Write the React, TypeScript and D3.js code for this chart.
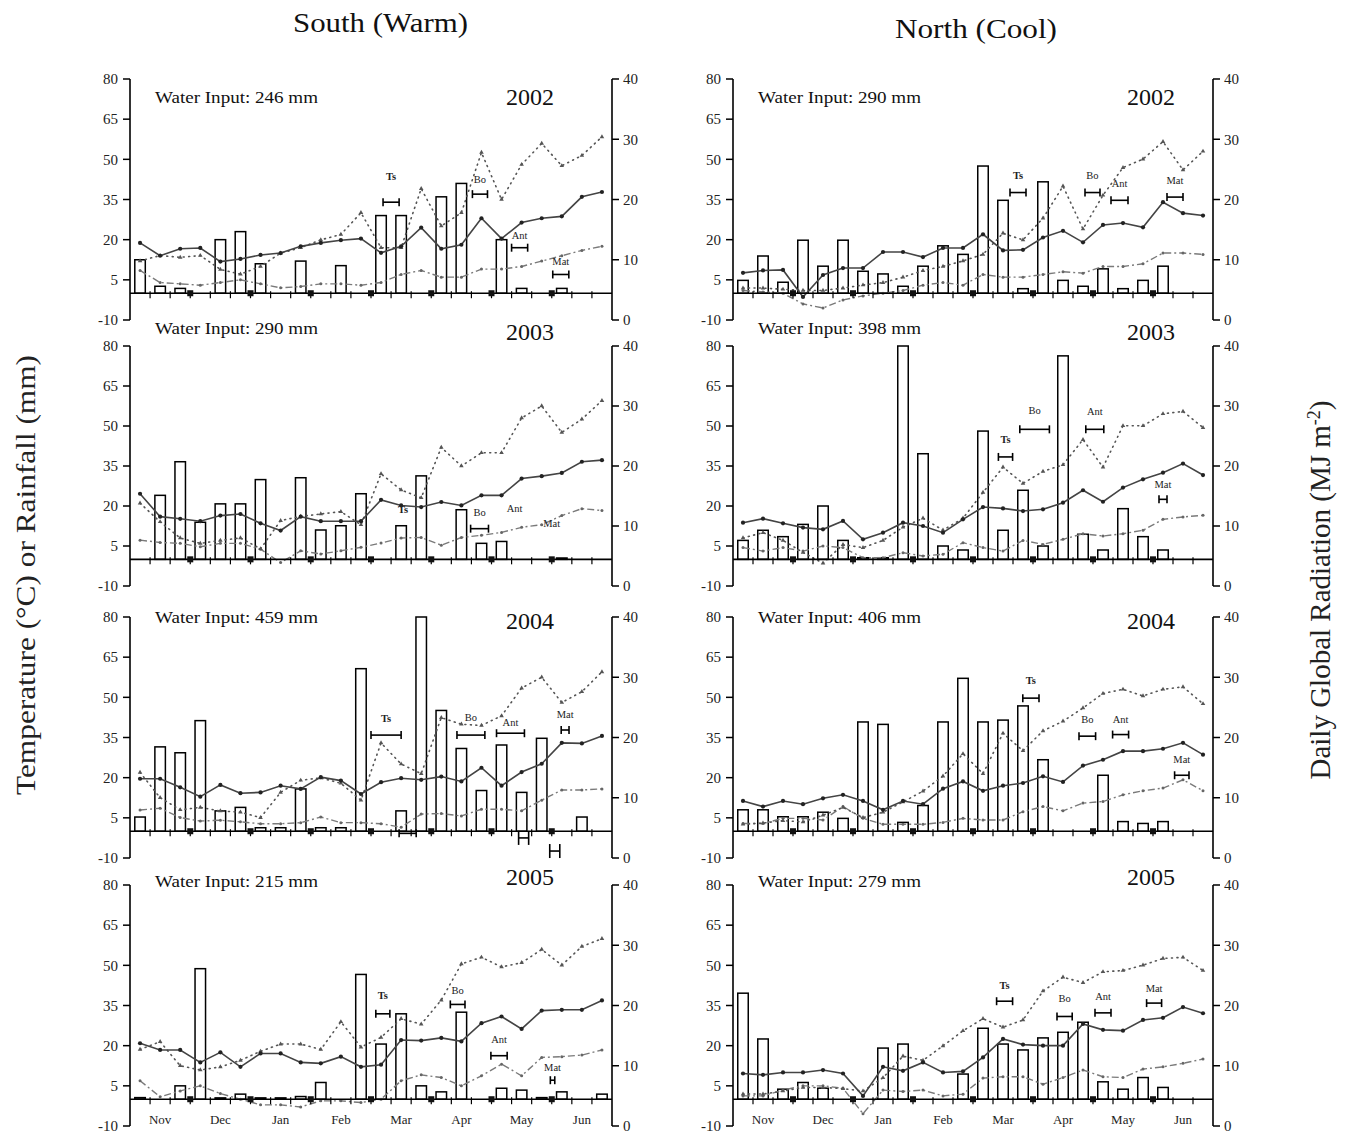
import React from 'react';
import * as d3 from 'd3';

// ---------------- DATA ----------------
const MONTHS = ['Nov', 'Dec', 'Jan', 'Feb', 'Mar', 'Apr', 'May', 'Jun'];
const LEFT_TICKS = [80, 65, 50, 35, 20, 5, -10];
const RIGHT_TICKS = [40, 30, 20, 10, 0];
const N_DEKADS = 24;

// South (Warm) 2002
const s2002Rain = [12.5, 2.6, 1.8, 0, 20, 23, 11, 0, 12, 0, 10.3, 0, 29, 29, 0, 36, 41, 0, 20, 1.8, 0, 1.8, 0, 0];
const s2002Tmax = [18.8, 14, 16.6, 16.9, 11.8, 12.8, 14.3, 15, 17.5, 18.8, 19.8, 20.4, 15.1, 17.5, 24.5, 16.6, 18.1, 28, 20.4, 26.4, 28, 28.7, 36, 37.8];
const s2002Tmin = [8.5, 4, 3.5, 3, 4, 5, 3.5, 2, 2.5, 3.5, 3.5, 3, 4, 7, 8.5, 6, 6, 9, 9, 10, 12, 14, 16, 17.5];
const s2002Rad = [9.8, 10.7, 10.4, 10.7, 8.4, 7.6, 8.9, 11.1, 12.0, 13.3, 14.2, 17.8, 12.0, 12.0, 21.8, 15.6, 17.8, 27.8, 20.0, 25.8, 29.3, 25.6, 27.3, 30.4];

// North (Cool) 2002
const n2002Rain = [4.8, 13.9, 4.1, 19.8, 10.1, 19.8, 8.2, 7.2, 2.6, 10.1, 17.7, 14.5, 47.5, 34.7, 1.7, 41.6, 4.8, 2.6, 9.1, 1.7, 4.8, 10.1, 0, 0];
const n2002Tmax = [7.6, 8.5, 8.7, -1.4, 6.8, 9.4, 9.4, 15.4, 15.4, 13.5, 16.9, 16.9, 22, 16, 16.2, 20.8, 23.3, 19, 25.5, 26.2, 24.6, 34, 29.9, 29];
const n2002Tmin = [1, 0.5, 0, -4, -5.5, -2.5, -1, 0, 1, 3, 4, 3, 7, 6, 6, 7, 8, 7.5, 10, 10, 11, 15, 15, 14.5];
const n2002Rad = [5.3, 5.3, 5.1, 4.9, 4.9, 5.3, 5.8, 6.2, 7.1, 8.2, 8.9, 9.8, 10.9, 14.4, 13.3, 16.9, 22.2, 15.1, 20.7, 25.3, 26.7, 29.6, 24.9, 28.0];

// South (Warm) 2003
const s2003Rain = [0, 24, 36.6, 13.9, 20.8, 20.8, 29.9, 0, 30.6, 11, 12.6, 24.6, 0, 12.6, 31.3, 0, 18.6, 6, 6.7, 0, 0, 0.5, 0, 0];
const s2003Tmax = [24.6, 16, 15.2, 14.3, 16.4, 17, 13.5, 10.8, 16, 14.3, 14.3, 14.3, 22.3, 20.2, 19.6, 21.5, 20.2, 24, 24, 30.3, 31.2, 32.4, 36.6, 37.2];
const s2003Tmin = [7.2, 6.3, 6, 4.7, 6, 6, 3.8, -1.2, 3.2, 2, 3.2, 4.5, 6.1, 8, 8.2, 5.3, 8.2, 9, 10.1, 12, 13, 16.4, 19, 18.3];
const s2003Rad = [13.8, 10.7, 8.0, 7.1, 7.6, 8.0, 6.2, 10.9, 11.6, 12.0, 12.4, 10.2, 18.7, 16.0, 14.7, 23.1, 20.0, 22.2, 22.2, 28.0, 30.0, 25.6, 27.8, 30.9];

// North (Cool) 2003
const n2003Rain = [7.1, 10.9, 8.5, 13.1, 20, 7.1, 0.6, 0.6, 80, 39.6, 5, 3.5, 48.1, 10.9, 25.9, 5, 76.3, 9.4, 3.5, 19, 8.5, 3.5, 0, 0];
const n2003Tmax = [13.75, 15.25, 13.5, 11.9, 11.25, 14.4, 7.5, 10, 13.75, 12.5, 10, 15, 19.6, 19.1, 18.1, 18.75, 21.25, 25.9, 21.6, 26.9, 30, 32.5, 35.9, 31.6];
const n2003Tmin = [4.4, 3.1, 4.4, 3.1, 5, 4.4, 0.6, 0.6, 2.5, 1.25, 1.9, 6.25, 4.4, 3.1, 7.1, 5.6, 7.5, 9.6, 8.75, 9.6, 10.9, 15, 15.9, 16.5];
const n2003Rad = [8.0, 8.9, 7.6, 5.6, 3.8, 6.9, 6.4, 7.6, 9.8, 11.3, 9.3, 11.3, 15.6, 19.8, 17.1, 19.1, 20.2, 24.4, 19.8, 26.7, 26.7, 28.7, 29.1, 26.4];

// South (Warm) 2004
const s2004Rain = [5.3, 31.5, 29.3, 41.3, 7.6, 8.9, 1.3, 1.3, 15.8, 1.3, 1.3, 60.7, 0, 7.6, 80, 45.1, 30.9, 15.2, 32.2, 14.5, 34.7, 0, 5.3, 0];
const s2004Tmax = [19.6, 19.6, 16.4, 12.9, 17.3, 14.2, 14.5, 17, 15.8, 20.2, 18.9, 13.9, 18.3, 19.8, 19.2, 20.4, 18.6, 23.7, 17, 22.1, 25.2, 33, 32.8, 35.6];
const s2004Tmin = [7.9, 8.6, 5.1, 3.8, 4.1, 3.5, 2.8, 2.8, 3.2, 5.3, 3.2, 3.2, 2.8, 1.5, 6.4, 6.6, 5.7, 8.2, 8.2, 7.6, 11.6, 15.4, 15.4, 15.8];
const s2004Rad = [14.2, 10.0, 8.0, 8.4, 7.8, 7.6, 6.7, 10.9, 12.9, 13.3, 12.4, 9.6, 19.1, 15.6, 14.0, 23.3, 22.2, 22.0, 23.6, 28.2, 30.0, 25.8, 27.6, 30.9];

// North (Cool) 2004
const n2004Rain = [8, 8, 5.4, 5.4, 7.1, 4.8, 40.8, 39.9, 3.3, 9.6, 40.8, 57.1, 40.8, 41.5, 46.8, 26.7, 0, 0, 20.9, 3.6, 2.9, 3.6, 0, 0];
const n2004Tmax = [11.3, 9.2, 11.3, 10.1, 12.3, 13.6, 11.3, 8, 11.3, 10.1, 15.9, 18.6, 15.1, 17, 18, 20.5, 18.4, 24.5, 26.7, 29.9, 29.9, 30.8, 33, 28.6];
const n2004Tmin = [2.9, 2.9, 4.8, 4.8, 4.2, 9.2, 4.8, 2.6, 2.6, 2.6, 3.3, 4.8, 4.2, 4.2, 7.3, 9.2, 7.6, 10.5, 11.1, 13.6, 15.1, 16.1, 19.2, 15.1];
const n2004Rad = [5.6, 5.8, 6.2, 6.0, 7.1, 8.4, 6.7, 7.6, 9.3, 11.1, 13.6, 17.3, 14.0, 20.7, 17.8, 21.1, 22.7, 24.9, 27.3, 28.0, 26.9, 28.0, 28.4, 25.6];

// South (Warm) 2005
const s2005Rain = [0.6, 0, 5, 48.75, 0.5, 1.9, 0.5, 0.5, 1, 6.25, 0, 46.6, 20.6, 31.9, 5, 2.75, 32.5, 0, 4.1, 3.4, 0.6, 2.75, 0, 1.9];
const s2005Tmax = [20.9, 18.4, 18.4, 13.75, 17.5, 12.1, 17.1, 17.1, 13.75, 13.4, 15.9, 12.1, 12.9, 22.1, 21.9, 22.9, 21.6, 28.4, 30.9, 26.25, 33.1, 33.4, 33.4, 36.9];
const s2005Tmin = [6.9, 0.9, 3.1, 5, 2.1, 0, -2.1, -2.1, -2.9, -0.6, -0.6, -1.25, 0, 6.9, 9.1, 8.1, 5, 8.75, 13.1, 8.75, 15.6, 15.9, 16.5, 18.4];
const s2005Rad = [12.7, 14.0, 10.0, 9.3, 9.8, 10.9, 12.4, 13.6, 13.6, 12.7, 17.3, 13.1, 14.7, 17.8, 16.9, 20.9, 26.9, 28.0, 26.4, 27.1, 29.3, 26.7, 29.8, 31.1];

// North (Cool) 2005
const n2005Rain = [39.6, 22.5, 3.75, 6.25, 4.1, 0, 0, 19.1, 20.6, 0, 0, 9.4, 26.5, 20.6, 18.4, 22.9, 25, 28.75, 6.5, 3.75, 8.1, 4.4, 0, 0];
const n2005Tmax = [9.6, 9.1, 10, 10, 10.9, 9.6, 1.25, 12.1, 10.6, 13.75, 10, 10.4, 15.6, 22.5, 20.4, 20, 20, 28.1, 25.9, 25.6, 29.6, 30.4, 34.4, 32.1];
const n2005Tmin = [1.25, 1.25, 3.4, 5, 5, 4.1, -5.4, 3.4, 2.9, 3.4, 1.25, 1.9, 7.9, 8.4, 8.4, 5.6, 8.1, 10.9, 8.4, 8.1, 11.25, 12.1, 13.4, 15];
const n2005Rad = [5.3, 5.3, 5.8, 6.4, 6.4, 6.2, 5.8, 8.0, 11.6, 10.9, 13.3, 15.8, 17.8, 16.4, 17.6, 22.4, 24.7, 23.8, 25.6, 25.8, 26.7, 27.8, 28.0, 25.8];

// Phenological stages: [label, start dekad, end dekad, level (°C axis), label level, bar drawn]
type Stage = [string, number, number, number, number, boolean];
const s2002Stages: Stage[] = [['Ts', 12.6, 13.4, 34, 43.5, true], ['Bo', 17.05, 17.8, 37, 42.6, true], ['Ant', 19, 19.8, 17, 21.7, true], ['Mat', 21.05, 21.85, 7, 11.8, true]];
const n2002Stages: Stage[] = [['Ts', 13.85, 14.65, 37.6, 44.1, true], ['Bo', 17.6, 18.35, 37.6, 44.1, true], ['Ant', 18.9, 19.75, 34.7, 41, true], ['Mat', 21.7, 22.5, 35.9, 42.2, true]];
const s2003Stages: Stage[] = [['Ts', 13.3, 13.9, 18.9, 18.9, false], ['Bo', 16.96, 17.85, 11.5, 17.7, true], ['Ant', 18.8, 19.5, 19, 19, false], ['Mat', 20.7, 21.3, 13.5, 13.5, false]];
const n2003Stages: Stage[] = [['Ts', 13.27, 13.98, 38.4, 45, true], ['Bo', 14.34, 15.82, 48.75, 56, true], ['Ant', 17.64, 18.54, 48.75, 55.5, true], ['Mat', 21.3, 21.7, 22.5, 28, true]];
const s2004Stages: Stage[] = [['Ts', 12, 13.5, 35.9, 42.2, true], ['Bo', 16.28, 17.67, 35.9, 42.5, true], ['Ant', 18.25, 19.64, 36.6, 40.5, true], ['Mat', 21.47, 21.86, 37.8, 43.5, true]];
const n2004Stages: Stage[] = [['Ts', 14.49, 15.3, 49.7, 56.2, true], ['Bo', 17.3, 18.13, 35.5, 41.8, true], ['Ant', 18.98, 19.78, 36.1, 41.8, true], ['Mat', 22.08, 22.8, 20.9, 26.7, true]];
const s2005Stages: Stage[] = [['Ts', 12.24, 12.94, 31.9, 38.75, true], ['Bo', 15.95, 16.68, 35.4, 40.5, true], ['Ant', 17.97, 18.78, 16.25, 22.5, true], ['Mat', 20.93, 21.15, 7.1, 12, true]];
const n2005Stages: Stage[] = [['Ts', 13.18, 13.98, 36.6, 42.5, true], ['Bo', 16.2, 16.96, 30.9, 37.5, true], ['Ant', 18.1, 18.9, 32.25, 38.5, true], ['Mat', 20.68, 21.43, 35.9, 41.5, true]];

// stray interval marks below the axis (South 2004): [start dekad, end dekad, level]
const s2004Extra = [[13.4, 14.25, -0.8], [19.35, 19.85, -2.5], [20.9, 21.4, -7.4]];

const WATER = { s2002: 246, n2002: 290, s2003: 290, n2003: 398, s2004: 459, n2004: 406, s2005: 215, n2005: 279 };

// ---------------- LAYOUT ----------------
const FONT = '"Liberation Serif", "Times New Roman", Times, serif';
const COLS = [[130, 612], [733, 1213]];
const ROWS = [[79, 320], [346, 586], [617, 858], [885, 1126]];
const ROW_TEXT_DY = [24, -12, 6, 2];
const ROW_YEAR_DY = [26, -6, 12, 0];

const panels = [
  { col: 0, row: 0, year: 2002, water: WATER.s2002, rain: s2002Rain, tmax: s2002Tmax, tmin: s2002Tmin, rad: s2002Rad, stages: s2002Stages, extra: [] as number[][] },
  { col: 1, row: 0, year: 2002, water: WATER.n2002, rain: n2002Rain, tmax: n2002Tmax, tmin: n2002Tmin, rad: n2002Rad, stages: n2002Stages, extra: [] },
  { col: 0, row: 1, year: 2003, water: WATER.s2003, rain: s2003Rain, tmax: s2003Tmax, tmin: s2003Tmin, rad: s2003Rad, stages: s2003Stages, extra: [] },
  { col: 1, row: 1, year: 2003, water: WATER.n2003, rain: n2003Rain, tmax: n2003Tmax, tmin: n2003Tmin, rad: n2003Rad, stages: n2003Stages, extra: [] },
  { col: 0, row: 2, year: 2004, water: WATER.s2004, rain: s2004Rain, tmax: s2004Tmax, tmin: s2004Tmin, rad: s2004Rad, stages: s2004Stages, extra: s2004Extra },
  { col: 1, row: 2, year: 2004, water: WATER.n2004, rain: n2004Rain, tmax: n2004Tmax, tmin: n2004Tmin, rad: n2004Rad, stages: n2004Stages, extra: [] },
  { col: 0, row: 3, year: 2005, water: WATER.s2005, rain: s2005Rain, tmax: s2005Tmax, tmin: s2005Tmin, rad: s2005Rad, stages: s2005Stages, extra: [] },
  { col: 1, row: 3, year: 2005, water: WATER.n2005, rain: n2005Rain, tmax: n2005Tmax, tmin: n2005Tmin, rad: n2005Rad, stages: n2005Stages, extra: [] },
];

function IntervalMark({ xa, xb, y, cap }: { xa: number; xb: number; y: number; cap: number }) {
  return (
    <g stroke="#000" strokeWidth={1.6}>
      <line x1={xa} x2={xb} y1={y} y2={y} />
      <line x1={xa} x2={xa} y1={y - cap} y2={y + cap} />
      <line x1={xb} x2={xb} y1={y - cap} y2={y + cap} />
    </g>
  );
}

function Panel({ p }: { p: typeof panels[number] }) {
  const [x0, x1] = COLS[p.col];
  const [y0, y1] = ROWS[p.row];
  const x = d3.scaleLinear().domain([0, N_DEKADS]).range([x0, x1]);
  const yL = d3.scaleLinear().domain([-10, 80]).range([y1, y0]);
  const yR = d3.scaleLinear().domain([0, 40]).range([y1, y0]);
  const cx = (i: number) => x(i + 0.5);
  const lineL = d3.line<number>().x((_, i) => cx(i)).y((d) => yL(d));
  const lineR = d3.line<number>().x((_, i) => cx(i)).y((d) => yR(d));
  const zeroY = yL(0);
  const barW = 10.5;
  const tri = d3.symbol().type(d3.symbolTriangle).size(9)();

  return (
    <g>
      {/* rainfall bars */}
      {p.rain.map((v, i) =>
        v > 0 ? (
          <rect key={'b' + i} x={cx(i) - barW / 2} y={yL(v)} width={barW} height={zeroY - yL(v)}
            fill="#fff" stroke="#000" strokeWidth={1.5} />
        ) : null
      )}
      {/* Tmin dash-dot */}
      <path d={lineL(p.tmin) || ''} fill="none" stroke="#7a7a7a" strokeWidth={1.4} strokeDasharray="7 3 2 3" />
      {p.tmin.map((v, i) => <circle key={'mn' + i} cx={cx(i)} cy={yL(v)} r={1.5} fill="#666" />)}
      {/* Radiation dotted */}
      <path d={lineR(p.rad) || ''} fill="none" stroke="#555" strokeWidth={1.6} strokeDasharray="1 4.5" strokeLinecap="round" />
      {p.rad.map((v, i) => <path key={'r' + i} d={tri || ''} transform={`translate(${cx(i)},${yR(v)})`} fill="#555" />)}
      {/* Tmax solid */}
      <path d={lineL(p.tmax) || ''} fill="none" stroke="#444" strokeWidth={1.6} />
      {p.tmax.map((v, i) => <circle key={'mx' + i} cx={cx(i)} cy={yL(v)} r={2.1} fill="#222" />)}

      {/* x axis at zero */}
      <line x1={x0} x2={x1} y1={zeroY} y2={zeroY} stroke="#000" strokeWidth={1.6} />
      {d3.range(1, N_DEKADS).map((k) => (
        <line key={'xt' + k} x1={x(k)} x2={x(k)} y1={zeroY - 2} y2={zeroY + 5} stroke="#000" strokeWidth={1.2} />
      ))}
      {d3.range(3, N_DEKADS, 3).map((k) => (
        <rect key={'mb' + k} x={x(k) - 3} y={zeroY - 3} width={6} height={6} fill="#111" />
      ))}

      {/* left axis */}
      <line x1={x0} x2={x0} y1={y0} y2={y1} stroke="#000" strokeWidth={1.6} />
      {LEFT_TICKS.map((t) => (
        <g key={'lt' + t}>
          <line x1={x0 - 7} x2={x0} y1={yL(t)} y2={yL(t)} stroke="#000" strokeWidth={1.5} />
          <text x={x0 - 12} y={yL(t)} dy="0.35em" textAnchor="end" fontSize={15} fontFamily={FONT} fill="#222">{t}</text>
        </g>
      ))}
      {/* right axis */}
      <line x1={x1} x2={x1} y1={y0} y2={y1} stroke="#000" strokeWidth={1.6} />
      {RIGHT_TICKS.map((t) => (
        <g key={'rt' + t}>
          <line x1={x1} x2={x1 + 7} y1={yR(t)} y2={yR(t)} stroke="#000" strokeWidth={1.5} />
          <text x={x1 + 11} y={yR(t)} dy="0.35em" textAnchor="start" fontSize={15} fontFamily={FONT} fill="#222">{t}</text>
        </g>
      ))}

      {/* stages */}
      {p.stages.map(([name, a, b, v, lv, bar]) => (
        <g key={'st' + name}>
          {bar && <IntervalMark xa={x(a)} xb={x(b)} y={yL(v)} cap={4} />}
          <text x={x((a + b) / 2)} y={yL(lv)} dy="0.35em" textAnchor="middle" fontSize={10.5}
            fontFamily={FONT} fontWeight={name === 'Ts' ? 'bold' : 'normal'} fill="#222">{name}</text>
        </g>
      ))}
      {p.extra.map(([a, b, v], i) => (
        <IntervalMark key={'ex' + i} xa={x(a)} xb={x(b)} y={yL(v)} cap={i === 0 ? 4 : 7} />
      ))}

      {/* texts */}
      <text x={x0 + 25} y={y0 + ROW_TEXT_DY[p.row]} fontSize={16} fontFamily={FONT} fill="#111"
        textLength={163} lengthAdjust="spacingAndGlyphs">{`Water Input: ${p.water} mm`}</text>
      <text x={x0 + (p.col === 0 ? 400 : 418)} y={y0 + ROW_YEAR_DY[p.row]} fontSize={24} textAnchor="middle"
        fontFamily={FONT} fill="#111">{p.year}</text>

      {p.row === 3 && MONTHS.map((m, k) => (
        <text key={'m' + m} x={x(k * 3 + 1.5)} y={y1 - 2} textAnchor="middle" fontSize={13} fontFamily={FONT} fill="#222">{m}</text>
      ))}
    </g>
  );
}

export default function App() {
  return (
    <svg width={1349} height={1135} style={{ position: 'absolute', left: 0, top: 0, background: '#fff' }}>
      <rect x={0} y={0} width={1349} height={1135} fill="#fff" />
      <text x={293} y={32} fontSize={28} fontFamily={FONT} fill="#111" textLength={175} lengthAdjust="spacingAndGlyphs">South (Warm)</text>
      <text x={895} y={38} fontSize={28} fontFamily={FONT} fill="#111" textLength={162} lengthAdjust="spacingAndGlyphs">North (Cool)</text>
      <text transform="translate(35,575) rotate(-90)" textAnchor="middle" fontSize={27} fontFamily={FONT} fill="#222"
        textLength={440} lengthAdjust="spacingAndGlyphs">Temperature (°C) or Rainfall (mm)</text>
      <text transform="translate(1330,590) rotate(-90)" textAnchor="middle" fontSize={29} fontFamily={FONT} fill="#222">
        Daily Global Radiation (MJ m<tspan dy={-10} fontSize={18}>-2</tspan><tspan dy={10}>)</tspan>
      </text>
      {panels.map((p, i) => <Panel key={i} p={p} />)}
    </svg>
  );
}
